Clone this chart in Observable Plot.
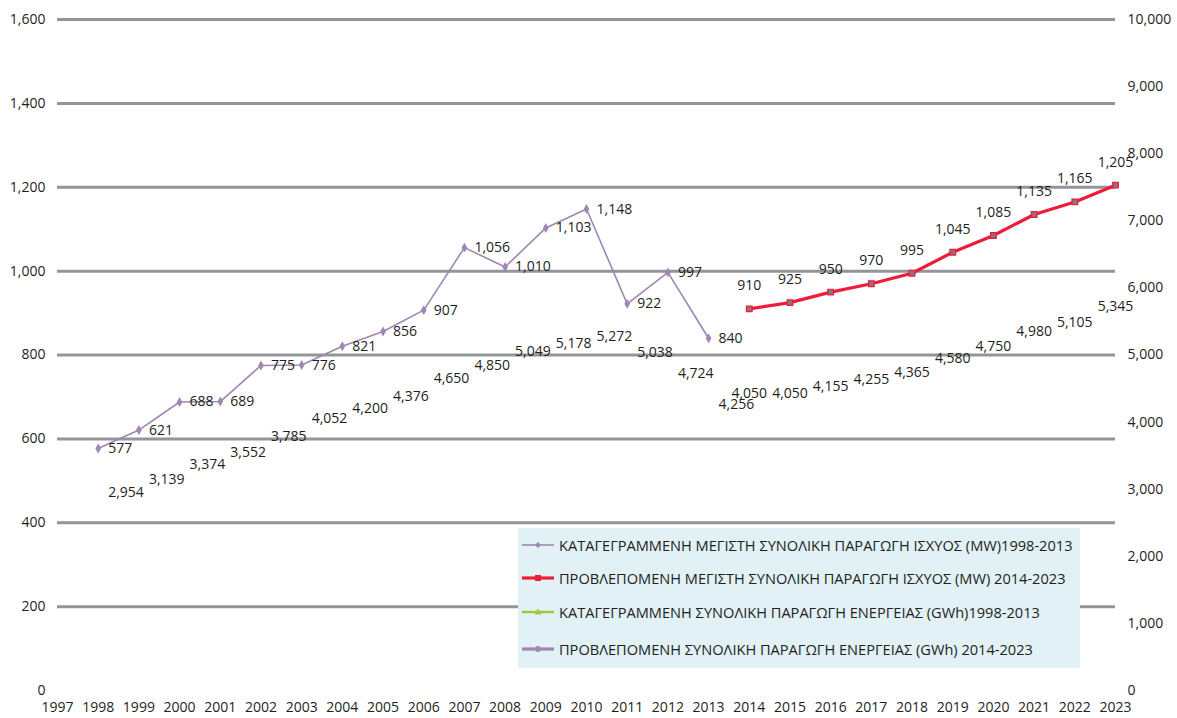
<!DOCTYPE html>
<html><head><meta charset="utf-8">
<script src="https://cdn.jsdelivr.net/npm/d3@7"></script>
<script src="https://cdn.jsdelivr.net/npm/@observablehq/plot@0.6"></script>
<style>
body{margin:0;background:#fff;font-family:"Open Sans",sans-serif;}
#wrap{position:relative;width:1177px;height:718px;}
#legend{position:absolute;left:518px;top:528px;width:562px;height:140px;background:#e1f1f6;}
.item{position:absolute;left:4px;display:flex;align-items:center;font-size:14.6px;color:#231f20;white-space:nowrap;height:18px;}
.item svg{margin-right:5px;}
</style></head><body><div id="wrap"></div>
<script>
// Data
const recYears = [1998,1999,2000,2001,2002,2003,2004,2005,2006,2007,2008,2009,2010,2011,2012,2013];
const recPower = [577,621,688,689,775,776,821,856,907,1056,1010,1103,1148,922,997,840];
const recEnergy = [2954,3139,3374,3552,3785,4052,4200,4376,4650,4850,5049,5178,5272,5038,4724,4256];
const fcYears = [2014,2015,2016,2017,2018,2019,2020,2021,2022,2023];
const fcPower = [910,925,950,970,995,1045,1085,1135,1165,1205];
const fcEnergy = [4050,4050,4155,4255,4365,4580,4750,4980,5105,5345];
const xTicks = [1997,1998,1999,2000,2001,2002,2003,2004,2005,2006,2007,2008,2009,2010,2011,2012,2013,2014,2015,2016,2017,2018,2019,2020,2021,2022,2023];
const leftTicks = [0,200,400,600,800,1000,1200,1400,1600];
const rightTicks = [0,1000,2000,3000,4000,5000,6000,7000,8000,9000,10000];
const legendLabels = [
  "ΚΑΤΑΓΕΓΡΑΜΜΕΝΗ ΜΕΓΙΣΤΗ ΣΥΝΟΛΙΚΗ ΠΑΡΑΓΩΓΗ ΙΣΧΥΟΣ (MW)1998-2013",
  "ΠΡΟΒΛΕΠΟΜΕΝΗ ΜΕΓΙΣΤΗ ΣΥΝΟΛΙΚΗ ΠΑΡΑΓΩΓΗ ΙΣΧΥΟΣ (MW) 2014-2023",
  "ΚΑΤΑΓΕΓΡΑΜΜΕΝΗ ΣΥΝΟΛΙΚΗ ΠΑΡΑΓΩΓΗ ΕΝΕΡΓΕΙΑΣ (GWh)1998-2013",
  "ΠΡΟΒΛΕΠΟΜΕΝΗ ΣΥΝΟΛΙΚΗ ΠΑΡΑΓΩΓΗ ΕΝΕΡΓΕΙΑΣ (GWh) 2014-2023"
];

const ratio = 10000 / 1600; // right axis (GWh) over left axis (MW)
const fmt = d3.format(",");
const purple = "#a086b3", red = "#ee1c3a", green = "#9bcb3b", grid = "#939598", ink = "#231f20";

const rec = recYears.map((year, i) => ({year, mw: recPower[i], gwh: recEnergy[i]}));
const fc = fcYears.map((year, i) => ({year, mw: fcPower[i], gwh: fcEnergy[i]}));

const chart = Plot.plot({
  width: 1177, height: 718,
  marginLeft: 57, marginRight: 62, marginTop: 19, marginBottom: 28,
  x: {domain: [1997, 2023]},
  y: {domain: [0, 1600]},
  style: {fontFamily: "'Open Sans', sans-serif", fontSize: "14px", color: ink, background: "transparent", overflow: "visible"},
  marks: [
    Plot.ruleY(leftTicks.filter(d => d > 0), {stroke: grid, strokeWidth: 3}),
    Plot.axisY(leftTicks, {anchor: "left", tickSize: 0, tickPadding: 12, tickFormat: fmt, label: null, fontSize: 14, fill: ink}),
    Plot.axisY(rightTicks.map(v => v / ratio), {anchor: "right", tickSize: 0, tickPadding: 12, tickFormat: d => fmt(Math.round(d * ratio)), label: null, fontSize: 14, fill: ink}),
    Plot.axisX(xTicks, {tickSize: 0, tickPadding: 12, tickFormat: d => String(d), label: null, fontSize: 14, fill: ink}),
    Plot.line(rec, {x: "year", y: "mw", stroke: purple, strokeWidth: 1.6}),
    Plot.dot(rec, {x: "year", y: "mw", symbol: "diamond", r: 3, fill: purple}),
    Plot.line(fc, {x: "year", y: "mw", stroke: red, strokeWidth: 3.2}),
    Plot.dot(fc, {x: "year", y: "mw", symbol: "square", r: 3.2, fill: "#8a7478", stroke: red, strokeWidth: 1.2}),
    Plot.text(rec, {x: "year", y: "mw", text: d => fmt(d.mw), dx: 10, textAnchor: "start", fontSize: 14, fill: ink}),
    Plot.text(rec, {x: "year", y: d => d.gwh / ratio, text: d => fmt(d.gwh), dx: 10, textAnchor: "start", fontSize: 14, fill: ink}),
    Plot.text(fc, {x: "year", y: "mw", text: d => fmt(d.mw), dy: -23, fontSize: 14, fill: ink}),
    Plot.text(fc, {x: "year", y: d => d.gwh / ratio, text: d => fmt(d.gwh), dy: -25, fontSize: 14, fill: ink})
  ]
});

const wrap = document.getElementById("wrap");
wrap.appendChild(chart);

// Legend (HTML, drawn over the plot area)
const legend = document.createElement("div");
legend.id = "legend";
const swatches = [
  {color: purple, w: 1.6, sym: "diamond"},
  {color: red, w: 3.2, sym: "square"},
  {color: green, w: 2.4, sym: "triangle"},
  {color: purple, w: 3.2, sym: "circle"}
];
const tops = [8, 41, 75, 112];
legendLabels.forEach((lab, i) => {
  const s = swatches[i];
  const item = document.createElement("div");
  item.className = "item";
  item.style.top = tops[i] + "px";
  let marker = "";
  if (s.sym === "diamond") marker = `<path d="M16,2 L19,5 L16,8 L13,5Z" fill="${s.color}"/>`;
  if (s.sym === "square") marker = `<rect x="13" y="2" width="6" height="6" fill="${s.color}"/>`;
  if (s.sym === "triangle") marker = `<path d="M16,1.5 L19.5,7.5 L12.5,7.5Z" fill="${s.color}"/>`;
  if (s.sym === "circle") marker = `<circle cx="16" cy="5" r="3" fill="${s.color}"/>`;
  item.innerHTML = `<svg width="32" height="10"><line x1="0" x2="32" y1="5" y2="5" stroke="${s.color}" stroke-width="${s.w}"/>${marker}</svg><span>${lab}</span>`;
  legend.appendChild(item);
});
wrap.appendChild(legend);
</script>
</body></html>
